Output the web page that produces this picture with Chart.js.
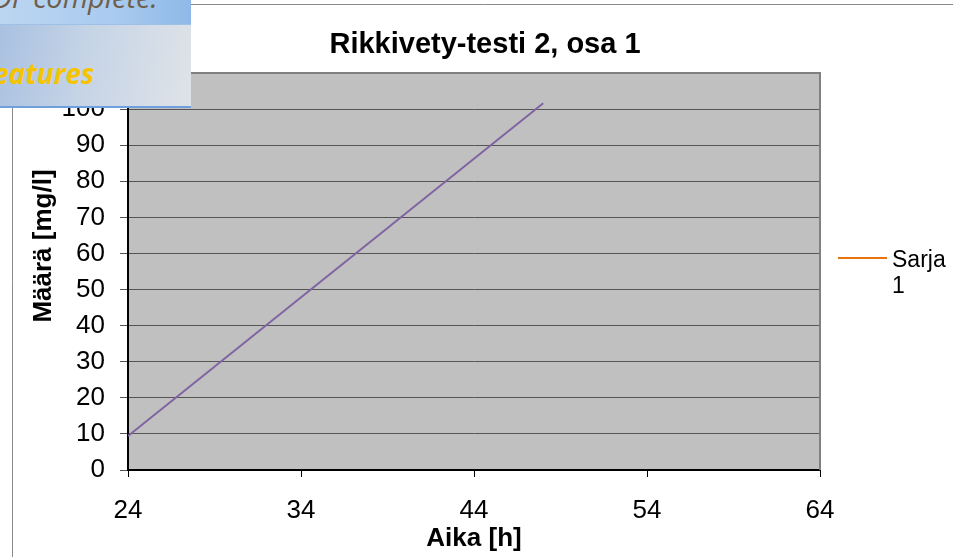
<!DOCTYPE html>
<html>
<head>
<meta charset="utf-8">
<script src="https://cdn.jsdelivr.net/npm/chart.js@4.4.0/dist/chart.umd.min.js"></script>
<style>
  html, body { margin: 0; padding: 0; background: #fff; }
  #wrap { position: relative; width: 953px; height: 557px; overflow: hidden; }
  #c { position: absolute; left: 0; top: 0; }
  #banner { position: absolute; left: 0; top: 0; width: 191px; height: 108px; overflow: hidden; }
  #bTop { position: absolute; left: 0; top: 0; width: 191px; height: 24px; overflow: hidden;
          background: linear-gradient(90deg, #bcd6f2 0%, #a9cbef 60%, #8fb9e8 100%);
          border-bottom: 1px solid #9fc0e6; }
  #bMid { position: absolute; left: 0; top: 25px; width: 191px; height: 81px;
          background: linear-gradient(100deg, #a9c1e1 0%, #c6d4e6 45%, #dfe3e8 100%); }
  #bLine { position: absolute; left: 0; top: 106px; width: 191px; height: 2px; background: #6f9fdc; }
  #bTxt1 { position: absolute; left: -24px; top: -23px; font-family: "Open Sans", sans-serif; font-style: italic;
           font-size: 29px; color: #6e5f4c; white-space: nowrap; }
  #bTxt2 { position: absolute; left: -7px; top: 54px; font-family: "Open Sans", sans-serif; font-style: italic;
           font-weight: bold; font-size: 28px; color: #f5c400; white-space: nowrap; }
</style>
</head>
<body>
<div id="wrap">
  <canvas id="c" width="953" height="557"></canvas>
  <div id="banner">
    <div id="bTop"><span id="bTxt1">PDF complete.</span></div>
    <div id="bMid"></div>
    <div id="bLine"></div>
    <span id="bTxt2">eatures</span>
  </div>
</div>
<script>
const chartTitle = "Rikkivety-testi 2, osa 1";
const xTitle = "Aika [h]";
const yTitle = "Määrä [mg/l]";
const seriesName = "Sarja 1";
const timeHours = [24, 48];
const amountMgL = [9.4, 101.6];
const xTicks = [24, 34, 44, 54, 64];
const yTicks = [0, 10, 20, 30, 40, 50, 60, 70, 80, 90, 100, 110];

const FONT = '"Liberation Sans", Arial, sans-serif';

const decor = {
  id: 'decor',
  beforeDraw(chart) {
    const { ctx, chartArea: a } = chart;
    ctx.save();
    ctx.fillStyle = '#c0c0c0';
    ctx.fillRect(a.left, a.top, a.right - a.left, a.bottom - a.top);
    // outer frame
    ctx.strokeStyle = '#8a8a8a';
    ctx.lineWidth = 1;
    ctx.beginPath();
    ctx.moveTo(12.5, 600);
    ctx.lineTo(12.5, 4.5);
    ctx.lineTo(1000, 4.5);
    ctx.stroke();
    ctx.restore();
  },
  afterDatasetsDraw(chart) {
    const { ctx, chartArea: a } = chart;
    ctx.save();
    ctx.strokeStyle = '#808080';
    ctx.lineWidth = 2;
    ctx.beginPath();
    ctx.moveTo(a.left, a.top);
    ctx.lineTo(a.right, a.top);
    ctx.lineTo(a.right, a.bottom);
    ctx.stroke();
    ctx.restore();
  },
  afterDraw(chart) {
    const { ctx } = chart;
    ctx.save();
    ctx.fillStyle = '#000';
    // chart title
    ctx.font = 'bold 29px ' + FONT;
    ctx.textAlign = 'center';
    ctx.textBaseline = 'alphabetic';
    ctx.fillText(chartTitle, 485, 53);
    // y axis title
    ctx.save();
    ctx.translate(51, 246);
    ctx.rotate(-Math.PI / 2);
    ctx.font = 'bold 26px ' + FONT;
    ctx.fillText(yTitle, 0, 0);
    ctx.restore();
    // legend
    const ds = chart.data.datasets[0];
    const parts = ds.label.split(' ');
    ctx.strokeStyle = ds.legendColor;
    ctx.lineWidth = 2;
    ctx.beginPath();
    ctx.moveTo(838, 258);
    ctx.lineTo(887, 258);
    ctx.stroke();
    ctx.font = '23px ' + FONT;
    ctx.textAlign = 'left';
    ctx.fillText(parts[0], 892, 267);
    ctx.fillText(parts[1], 892, 293);
    ctx.restore();
  }
};

new Chart(document.getElementById('c'), {
  type: 'scatter',
  data: {
    datasets: [{
      label: seriesName,
      data: timeHours.map((t, i) => ({ x: t, y: amountMgL[i] })),
      showLine: true,
      borderColor: '#8064a2',
      legendColor: '#e8720c',
      borderWidth: 2,
      pointRadius: 0,
      fill: false
    }]
  },
  options: {
    responsive: false,
    animation: false,
    layout: { padding: { left: 0, right: 133, top: 73, bottom: 0 } },
    plugins: {
      legend: { display: false },
      tooltip: { enabled: false },
      title: { display: false }
    },
    scales: {
      x: {
        type: 'linear',
        min: xTicks[0],
        max: xTicks[xTicks.length - 1],
        afterBuildTicks(axis) { axis.ticks = xTicks.map(v => ({ value: v })); },
        afterFit(axis) { axis.height = 87; },
        ticks: { color: '#000', font: { family: FONT, size: 26 }, padding: 18, maxRotation: 0 },
        grid: { drawOnChartArea: false, drawTicks: true, tickLength: 7, color: '#000' },
        border: { display: true, color: '#000', width: 2 },
        title: { display: true, text: xTitle, color: '#000', font: { family: FONT, size: 26, weight: 'bold' }, padding: { top: 0, bottom: 3 } }
      },
      y: {
        type: 'linear',
        min: yTicks[0],
        max: yTicks[yTicks.length - 1],
        afterBuildTicks(axis) { axis.ticks = yTicks.map(v => ({ value: v })); },
        afterFit(axis) { axis.width = 128; },
        ticks: {
          color: '#000', font: { family: FONT, size: 26 }, padding: 15,
          callback: v => (v === 110 ? '' : String(v))
        },
        grid: { color: '#555', lineWidth: 1, tickLength: 8, drawTicks: true },
        border: { display: true, color: '#000', width: 2 },
        title: { display: false }
      }
    }
  },
  plugins: [decor]
});
</script>
</body>
</html>
